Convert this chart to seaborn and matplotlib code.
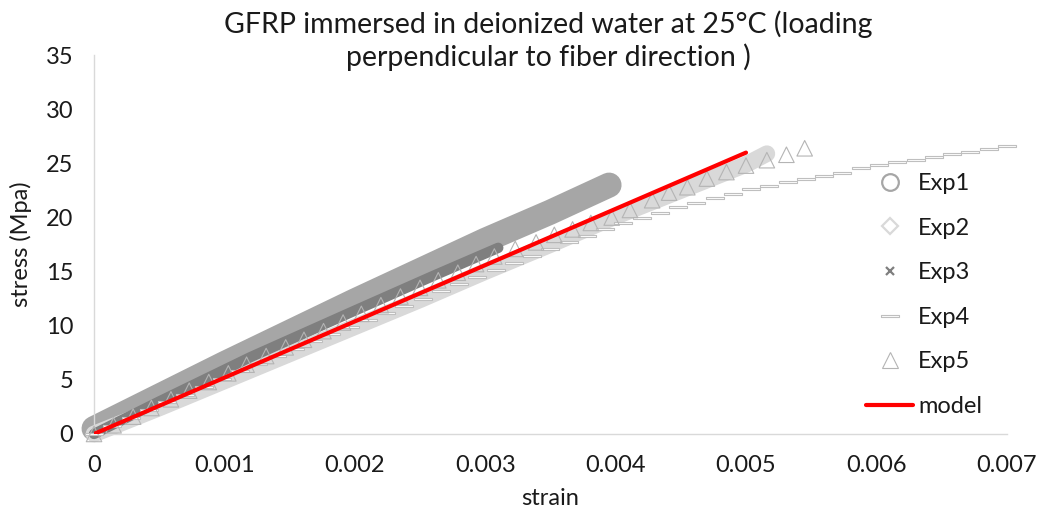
import numpy as np
import pandas as pd
import seaborn as sns
import matplotlib
matplotlib.use("Agg")
import matplotlib.pyplot as plt
from matplotlib.lines import Line2D

# ---------------- data ----------------
exp1_strain = [0.0, 0.0002, 0.0005, 0.001, 0.0015, 0.002, 0.0025, 0.003, 0.0035, 0.00395]
exp1_stress = [0.5, 1.7, 3.5, 6.5, 9.4, 12.3, 15.1, 17.9, 20.5, 23.0]

exp2_strain = [0.0, 0.0005, 0.001, 0.0015, 0.002, 0.0025, 0.003, 0.0035, 0.004, 0.0045, 0.005, 0.00516]
exp2_stress = [0.0, 2.4, 4.9, 7.4, 9.9, 12.4, 15.0, 17.5, 20.1, 22.5, 24.9, 25.9]

exp3_strain = [0.0, 0.0005, 0.0012, 0.002, 0.0026, 0.0031]
exp3_stress = [0.0, 3.0, 7.1, 11.4, 14.6, 17.2]

exp4_strain = [0.0, 0.00014, 0.00028, 0.00042, 0.00056, 0.0007, 0.00084, 0.00098, 0.00112, 0.00126,
               0.0014, 0.00154, 0.00168, 0.00182, 0.00196, 0.0021, 0.00224, 0.00238, 0.00252, 0.00266,
               0.0028, 0.00294, 0.00308, 0.00322, 0.00336, 0.0035, 0.00364, 0.00378, 0.00392, 0.00406,
               0.0042, 0.00434, 0.00448, 0.00462, 0.00476, 0.0049, 0.00504, 0.00518, 0.00532, 0.00546,
               0.0056, 0.00574, 0.00588, 0.00602, 0.00616, 0.0063, 0.00644, 0.00658, 0.00672, 0.00686, 0.007]
exp4_stress = [0.0, 0.73, 1.46, 2.18, 2.91, 3.64, 4.37, 5.10, 5.80, 6.50,
               7.20, 7.89, 8.56, 9.24, 9.91, 10.56, 11.20, 11.85, 12.50, 13.17,
               13.84, 14.50, 15.17, 15.81, 16.46, 17.10, 17.72, 18.33, 18.95, 19.50,
               19.98, 20.46, 20.93, 21.36, 21.78, 22.20, 22.60, 22.93, 23.27, 23.60,
               23.83, 24.13, 24.54, 24.84, 25.09, 25.34, 25.59, 25.84, 26.10, 26.35, 26.60]

exp5_strain = [0.0, 0.00015, 0.0003, 0.00044, 0.00059, 0.00073, 0.00088, 0.00103, 0.00117, 0.00132,
               0.00147, 0.00161, 0.00176, 0.00191, 0.00205, 0.0022, 0.00235, 0.0025, 0.00264, 0.00279,
               0.00293, 0.00307, 0.00323, 0.00339, 0.00353, 0.00367, 0.00381, 0.00397, 0.00411, 0.00428,
               0.00441, 0.00455, 0.0047, 0.00485, 0.005, 0.00516, 0.00531, 0.00545]
exp5_stress = [0.0, 0.8, 1.6, 2.4, 3.2, 4.0, 4.8, 5.6, 6.4, 7.2,
               8.0, 8.7, 9.5, 10.3, 11.1, 11.9, 12.7, 13.5, 14.2, 14.9,
               15.7, 16.4, 17.1, 17.7, 18.4, 18.9, 19.5, 20.0, 20.7, 21.6,
               22.3, 22.8, 23.6, 24.2, 24.8, 25.3, 25.8, 26.4]

model_strain = [0.0, 0.005]
model_stress = [0.0, 26.0]

x_ticks = [0, 0.001, 0.002, 0.003, 0.004, 0.005, 0.006, 0.007]
x_tick_labels = ["0", "0.001", "0.002", "0.003", "0.004", "0.005", "0.006", "0.007"]
y_ticks = [0, 5, 10, 15, 20, 25, 30, 35]

title = "GFRP immersed in deionized water at 25°C (loading\nperpendicular to fiber direction )"
series_names = ["Exp1", "Exp2", "Exp3", "Exp4", "Exp5", "model"]

# ---------------- style ----------------
sns.set_theme(style="white")
plt.rcParams["font.family"] = ["Lato", "DejaVu Sans"]
TXT = "#1a1a1a"
FS = 17

fig = plt.figure(figsize=(10.39, 5.16), dpi=100)
ax = fig.add_axes([0.0905, 0.159, 0.8785, 0.734])

c1, c2, c3, c4, c5 = "#a6a6a6", "#d9d9d9", "#7f7f7f", "#bfbfbf", "#b4b4b4"

sns.lineplot(x=exp1_strain, y=exp1_stress, ax=ax, color=c1, lw=18,
             solid_capstyle="round", sort=False, legend=False, zorder=2, clip_on=False)
sns.lineplot(x=exp2_strain, y=exp2_stress, ax=ax, color=c2, lw=12,
             solid_capstyle="round", sort=False, legend=False, zorder=3, clip_on=False)
sns.lineplot(x=exp3_strain, y=exp3_stress, ax=ax, color=c3, lw=7.5,
             solid_capstyle="round", sort=False, legend=False, zorder=4, clip_on=False)

dash = [(-1, -0.16), (1, -0.16), (1, 0.16), (-1, 0.16), (-1, -0.16)]
sns.scatterplot(x=exp4_strain, y=exp4_stress, ax=ax, marker=dash, s=160,
                facecolor="white", edgecolor=c4, linewidth=0.8, legend=False, zorder=5, clip_on=False)
sns.scatterplot(x=exp5_strain, y=exp5_stress, ax=ax, marker="^", s=125,
                facecolor="none", edgecolor=c5, linewidth=0.8, legend=False, zorder=6, clip_on=False)
sns.lineplot(x=model_strain, y=model_stress, ax=ax, color="#ff0000", lw=3,
             solid_capstyle="round", legend=False, zorder=7)

ax.set_xlim(0, 0.007)
ax.set_ylim(0, 35)
ax.set_xticks(x_ticks)
ax.set_xticklabels(x_tick_labels)
ax.set_yticks(y_ticks)
ax.tick_params(axis="both", length=0, labelsize=FS, colors=TXT, pad=15)
for s in ["top", "right"]:
    ax.spines[s].set_visible(False)
for s in ["left", "bottom"]:
    ax.spines[s].set_color("#d9d9d9")
    ax.spines[s].set_linewidth(1.0)
ax.grid(False)

ax.set_xlabel("strain", fontsize=FS, color=TXT, labelpad=9)
ax.set_ylabel("stress (Mpa)", fontsize=FS, color=TXT, labelpad=10)
fig.text(0.5275, 0.979, title, ha="center", va="top", fontsize=20.5, color=TXT, linespacing=1.22)

handles = [
    Line2D([], [], ls="none", marker="o", ms=12, mfc="none", mec=c1, mew=1.6),
    Line2D([], [], ls="none", marker="D", ms=8, mfc="none", mec=c2, mew=1.6),
    Line2D([], [], ls="none", marker="x", ms=6, mec=c3, mew=1.6),
    Line2D([], [], ls="none", marker=dash, ms=13, mfc="white", mec=c4, mew=0.8),
    Line2D([], [], ls="none", marker="^", ms=12, mfc="none", mec=c5, mew=0.8),
    Line2D([], [], color="#ff0000", lw=3),
]
leg = fig.legend(handles, series_names, loc="upper left", bbox_to_anchor=(0.813, 0.706),
                 frameon=False, fontsize=FS, labelspacing=1.0, handlelength=2.0,
                 handletextpad=0.2, labelcolor=TXT)

fig.savefig("out.png", dpi=100)
